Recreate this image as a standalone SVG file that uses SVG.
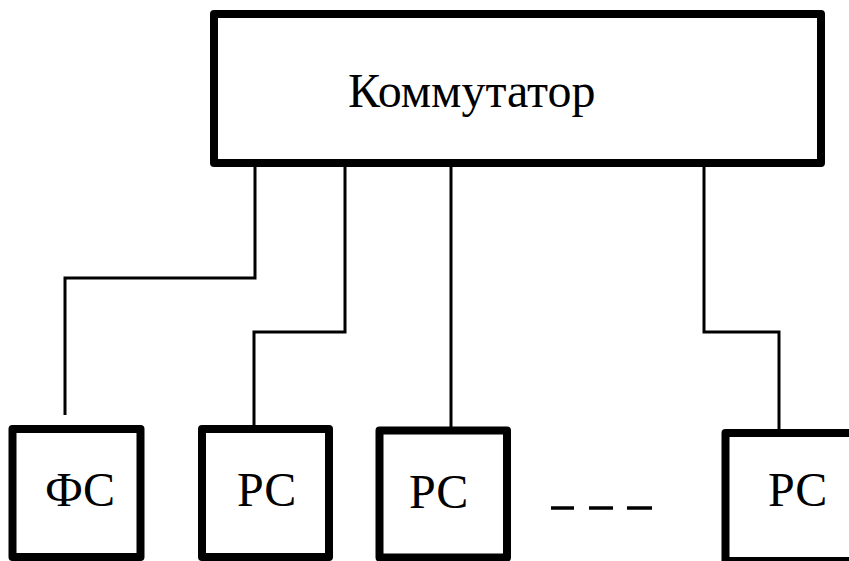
<svg xmlns="http://www.w3.org/2000/svg" width="849" height="561" viewBox="0 0 849 561">
<style>
.box{fill:#fff;stroke:#000;stroke-width:8;stroke-linejoin:round}
.wire{fill:none;stroke:#000;stroke-width:3;stroke-linejoin:miter}
.dash{stroke:#000;stroke-width:3.5}
text{font-family:"Liberation Serif","Times New Roman",Times,"DejaVu Serif",serif;font-size:48px;fill:#000}
</style>
<rect width="849" height="561" fill="#fff"/>
<g id="connectors">
<polyline class="wire" points="255,167 255,278 65,278 65,415"/>
<polyline class="wire" points="345,167 345,332 254,332 254,429"/>
<polyline class="wire" points="451,167 451,430"/>
<polyline class="wire" points="704,167 704,332 779,332 779,433"/>
</g>
<g id="switch">
<rect class="box" x="214" y="14" width="607" height="149"/>
<text x="348" y="107" font-family="Liberation Serif">Коммутатор</text>
</g>
<g id="fs">
<rect class="box" x="12.5" y="429" width="128" height="128"/>
<text x="45" y="506" font-family="Liberation Serif">ФС</text>
</g>
<g id="rs1">
<rect class="box" x="202" y="429" width="127" height="128"/>
<text x="237" y="506" font-family="Liberation Serif">РС</text>
</g>
<g id="rs2">
<rect class="box" x="379.5" y="430.5" width="127.5" height="127"/>
<text x="409" y="508" font-family="Liberation Serif">РС</text>
</g>
<g id="rsn">
<rect class="box" x="725.5" y="433" width="150" height="128"/>
<text x="768" y="506" font-family="Liberation Serif">РС</text>
</g>
<g id="ellipsis">
<line class="dash" x1="551" y1="508" x2="574" y2="508"/>
<line class="dash" x1="589" y1="508" x2="613" y2="508"/>
<line class="dash" x1="627" y1="508" x2="652" y2="508"/>
</g>
</svg>
